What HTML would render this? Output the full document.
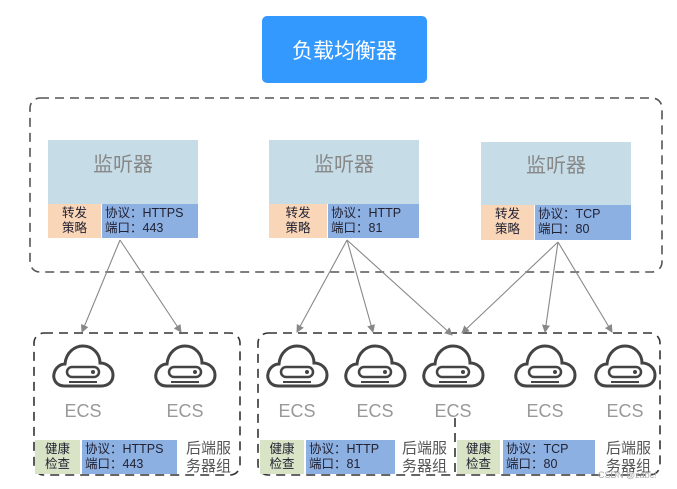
<!DOCTYPE html>
<html><head><meta charset="utf-8"><style>
body{margin:0;width:677px;height:489px;background:#fff;position:relative;overflow:hidden;font-family:"Liberation Sans","Noto Sans CJK SC",sans-serif}
.a{position:absolute}
.btn{left:262px;top:16px;width:165px;height:67px;background:#3399ff;border-radius:5px;color:#fff;font-size:21px;display:flex;align-items:center;justify-content:center}
.lh{background:#c6dde8;color:#888;font-size:20px;text-align:center}
.or{background:#f9d6b8;color:#223;font-size:12.5px;line-height:15px;text-align:center;padding-top:2px;box-sizing:border-box}
.bl{background:#8db0e2;color:#223;font-size:12.5px;line-height:15px;padding:2px 0 0 3px;box-sizing:border-box}
.gr{background:#d9e4c6;color:#223;font-size:12.5px;line-height:15px;text-align:center;padding-top:2px;box-sizing:border-box}
.ecs{color:#999;font-size:18px;width:70px;text-align:center}
.grp{color:#555;font-size:15px;line-height:18px}
</style></head><body>
<div class="a btn">负载均衡器</div>

<svg class="a" style="left:0;top:0" width="677" height="489">
<defs>
<marker id="m" markerWidth="8" markerHeight="8" refX="7" refY="4" orient="auto" markerUnits="userSpaceOnUse"><path d="M0,0 L8,4 L0,8 z" fill="#888"/></marker>
<symbol id="c" viewBox="0 0 64 50"><path d="M14,44 C4,44 2,36 3,32 C4,26 9,22 14,22 C15,10 24,4 32,4 C42,4 49,12 49,21 C56,21 62,26 62,33 C62,40 57,44 50,44 Z" fill="none" stroke="#444" stroke-width="3"/><rect x="16" y="25" width="32" height="10" rx="5" fill="none" stroke="#444" stroke-width="2.5"/><circle cx="42" cy="30" r="2" fill="#444"/><line x1="18" y1="40" x2="46" y2="40" stroke="#444" stroke-width="2"/></symbol>
</defs>
<rect x="30" y="98" width="632" height="174" rx="10" fill="none" stroke="#555" stroke-width="1.6" stroke-dasharray="9,6"/>
<rect x="34" y="333" width="206" height="142" rx="10" fill="none" stroke="#333" stroke-width="1.6" stroke-dasharray="9,6"/>
<rect x="258" y="333" width="402" height="142" rx="10" fill="none" stroke="#333" stroke-width="1.6" stroke-dasharray="9,6"/>
<line x1="455" y1="418" x2="455" y2="475" stroke="#333" stroke-width="1.6" stroke-dasharray="9,6"/>
<g stroke="#888" stroke-width="1.1" marker-end="url(#m)">
<line x1="120" y1="240" x2="82" y2="332"/>
<line x1="120" y1="240" x2="181" y2="332"/>
<line x1="347" y1="240" x2="297" y2="332"/>
<line x1="347" y1="240" x2="373" y2="332"/>
<line x1="347" y1="240" x2="452" y2="335"/>
<line x1="558" y1="242" x2="462" y2="333"/>
<line x1="558" y1="242" x2="545" y2="332"/>
<line x1="558" y1="242" x2="612" y2="332"/>
</g>
<use href="#c" x="51" y="342" width="64" height="50"/>
<use href="#c" x="153" y="342" width="64" height="50"/>
<use href="#c" x="265" y="342" width="64" height="50"/>
<use href="#c" x="343" y="342" width="64" height="50"/>
<use href="#c" x="421" y="342" width="64" height="50"/>
<use href="#c" x="513" y="342" width="64" height="50"/>
<use href="#c" x="593" y="342" width="64" height="50"/>
</svg>

<div class="a lh" style="left:48px;top:140px;width:150px;height:64px;line-height:50px">监听器</div>
<div class="a or" style="left:48px;top:204px;width:53px;height:34px">转发<br>策略</div>
<div class="a bl" style="left:102px;top:204px;width:96px;height:34px">协议：HTTPS<br>端口：443</div>

<div class="a lh" style="left:269px;top:140px;width:150px;height:64px;line-height:50px">监听器</div>
<div class="a or" style="left:269px;top:204px;width:58px;height:34px">转发<br>策略</div>
<div class="a bl" style="left:328px;top:204px;width:91px;height:34px">协议：HTTP<br>端口：81</div>

<div class="a lh" style="left:481px;top:142px;width:150px;height:63px;line-height:48px">监听器</div>
<div class="a or" style="left:481px;top:205px;width:53px;height:35px">转发<br>策略</div>
<div class="a bl" style="left:535px;top:205px;width:96px;height:35px">协议：TCP<br>端口：80</div>

<div class="a ecs" style="left:48px;top:401px">ECS</div>
<div class="a ecs" style="left:150px;top:401px">ECS</div>
<div class="a ecs" style="left:262px;top:401px">ECS</div>
<div class="a ecs" style="left:340px;top:401px">ECS</div>
<div class="a ecs" style="left:418px;top:401px">ECS</div>
<div class="a ecs" style="left:510px;top:401px">ECS</div>
<div class="a ecs" style="left:590px;top:401px">ECS</div>

<div class="a gr" style="left:35px;top:440px;width:45px;height:34px">健康<br>检查</div>
<div class="a bl" style="left:82px;top:440px;width:95px;height:34px">协议：HTTPS<br>端口：443</div>
<div class="a grp" style="left:186px;top:440px">后端服<br>务器组</div>

<div class="a gr" style="left:260px;top:440px;width:44px;height:34px">健康<br>检查</div>
<div class="a bl" style="left:306px;top:440px;width:89px;height:34px">协议：HTTP<br>端口：81</div>
<div class="a grp" style="left:402px;top:440px">后端服<br>务器组</div>

<div class="a gr" style="left:457px;top:440px;width:43px;height:34px">健康<br>检查</div>
<div class="a bl" style="left:503px;top:440px;width:92px;height:34px">协议：TCP<br>端口：80</div>
<div class="a grp" style="left:606px;top:440px">后端服<br>务器组</div>
<div class="a" style="left:598px;top:470px;font-size:9px;color:#aaa">CSDN @zabc!</div>
</body></html>
